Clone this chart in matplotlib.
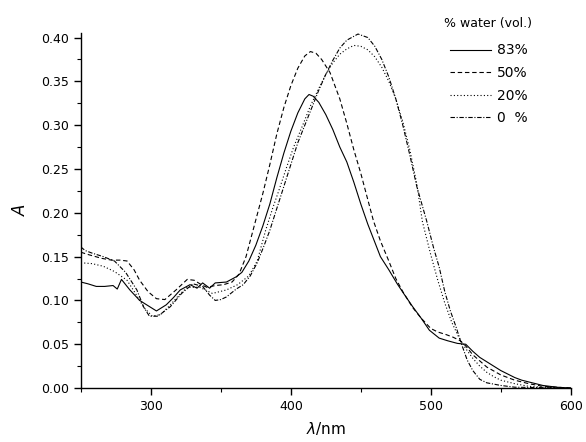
import matplotlib
matplotlib.use('Agg')
import matplotlib.pyplot as plt
from matplotlib.ticker import MultipleLocator

# 83 % water (solid)
wl_83 = [250, 255, 261, 267, 273, 276, 279, 285, 292, 298, 304, 311, 316, 321, 328, 333, 337, 342, 346,
         354, 361, 365, 370, 375, 380, 385, 390, 395, 400, 405, 410, 413, 416, 420, 425, 430, 435,
         440, 445, 450, 455, 464, 470, 476, 481, 487, 493, 499, 506, 512, 519, 525, 530, 535, 540,
         545, 550, 555, 560, 565, 570, 575, 580, 590, 600]
a_83 = [0.121, 0.119, 0.116, 0.116, 0.117, 0.113, 0.124, 0.112, 0.100, 0.094, 0.088, 0.095, 0.103, 0.112,
        0.118, 0.114, 0.120, 0.114, 0.120, 0.121, 0.127, 0.132, 0.145, 0.163, 0.185, 0.210, 0.240,
        0.268, 0.293, 0.314, 0.330, 0.335, 0.333, 0.326, 0.312, 0.295, 0.275, 0.258, 0.235, 0.210,
        0.187, 0.150, 0.135, 0.119, 0.107, 0.093, 0.080, 0.066, 0.057, 0.054, 0.051, 0.050, 0.042,
        0.035, 0.030, 0.025, 0.020, 0.016, 0.012, 0.009, 0.007, 0.005, 0.003, 0.001, 0.000]

# 50 % water (dashed)
wl_50 = [250, 256, 265, 272, 278, 283, 288, 292, 298, 304, 310, 318, 326, 331, 336, 340, 346, 352,
         358, 363, 368, 373, 380, 385, 390, 395, 400, 405, 410, 414, 418, 422, 428, 435, 440, 445,
         450, 455, 459, 464, 470, 475, 480, 487, 493, 500, 505, 511, 516, 521, 525, 530, 535, 540,
         550, 560, 570, 580, 590, 600]
a_50 = [0.155, 0.152, 0.148, 0.146, 0.146, 0.145, 0.135, 0.123, 0.110, 0.102, 0.101, 0.112, 0.124,
        0.123, 0.118, 0.115, 0.117, 0.118, 0.121, 0.130, 0.150, 0.180, 0.222, 0.255, 0.290, 0.320,
        0.345, 0.365, 0.379, 0.384, 0.382, 0.375, 0.360, 0.330, 0.302, 0.272, 0.245, 0.215, 0.191,
        0.168, 0.145, 0.125, 0.110, 0.092, 0.080, 0.068, 0.064, 0.061, 0.058, 0.054, 0.048, 0.038,
        0.031, 0.024, 0.015, 0.009, 0.005, 0.002, 0.001, 0.000]

# 20 % water (dotted)
wl_20 = [250, 258, 266, 274, 283, 289, 295, 301, 307, 314, 320, 326, 335, 344, 354, 362, 370, 376,
         382, 387, 392, 397, 402, 408, 414, 420, 425, 430, 435, 440, 445, 450, 455, 460, 465, 470,
         475, 480, 485, 490, 494, 500, 505, 510, 515, 520, 525, 530, 535, 540, 545, 550, 560, 570,
         580, 600]
a_20 = [0.143, 0.142, 0.139, 0.133, 0.123, 0.108, 0.092, 0.082, 0.084, 0.095, 0.106, 0.115, 0.115,
        0.108, 0.112, 0.118, 0.128, 0.145, 0.180, 0.205, 0.228, 0.252, 0.275, 0.298, 0.322, 0.342,
        0.358, 0.371, 0.381, 0.387, 0.391, 0.390, 0.386, 0.378, 0.366, 0.350, 0.330, 0.304, 0.272,
        0.233, 0.190, 0.152, 0.123, 0.097, 0.075, 0.058, 0.045, 0.034, 0.025, 0.018, 0.013, 0.009,
        0.005, 0.002, 0.001, 0.000]

# 0 % water (dash-dot)
wl_0 = [250, 253, 258, 266, 274, 282, 290, 295, 299, 305, 314, 322, 330, 337, 342, 346, 350, 354,
        361, 366, 371, 376, 381, 385, 390, 395, 400, 405, 410, 415, 420, 425, 430, 435, 440, 448,
        455, 460, 465, 470, 475, 480, 485, 490, 497, 502, 506, 510, 514, 518, 522, 526, 530, 535,
        540, 550, 560, 600]
a_0 = [0.161, 0.157, 0.154, 0.150, 0.145, 0.132, 0.112, 0.092, 0.082, 0.082, 0.093, 0.108, 0.119,
       0.116, 0.106, 0.100, 0.101, 0.104, 0.113, 0.118, 0.128, 0.143, 0.163, 0.180, 0.205, 0.230,
       0.255, 0.280, 0.300, 0.320, 0.340, 0.358, 0.374, 0.388, 0.397, 0.404, 0.400, 0.390, 0.375,
       0.355, 0.330, 0.300, 0.266, 0.230, 0.191, 0.160, 0.138, 0.110, 0.088, 0.070, 0.050, 0.032,
       0.020, 0.010, 0.006, 0.003, 0.001, 0.000]

labels = ['83%', '50%', '20%', '0  %']

fig = plt.figure(figsize=(5.86, 4.42), dpi=100)
ax = fig.add_axes([0.138, 0.122, 0.836, 0.803])

lw = 0.8
ax.plot(wl_83, a_83, color='black', lw=lw, linestyle='-', label=labels[0])
ax.plot(wl_50, a_50, color='black', lw=lw, linestyle=(0, (4, 2.5)), label=labels[1])
ax.plot(wl_20, a_20, color='black', lw=lw, linestyle=(0, (1, 2)), label=labels[2])
ax.plot(wl_0, a_0, color='black', lw=lw, linestyle=(0, (4, 1.5, 1, 1.5)), label=labels[3])

ax.set_xlim(250, 600)
ax.set_ylim(0, 0.405)
ax.xaxis.set_major_locator(MultipleLocator(100))
ax.xaxis.set_minor_locator(MultipleLocator(50))
ax.yaxis.set_major_locator(MultipleLocator(0.05))
ax.yaxis.set_minor_locator(MultipleLocator(0.025))
ax.yaxis.set_major_formatter(matplotlib.ticker.FormatStrFormatter('%.2f'))
ax.set_xticks([300, 400, 500, 600])

for s in ['top', 'right']:
    ax.spines[s].set_visible(False)
for s in ['left', 'bottom']:
    ax.spines[s].set_linewidth(1.0)
ax.tick_params(which='major', direction='out', length=5, width=1.0, labelsize=9)
ax.tick_params(which='minor', direction='out', length=3, width=0.8)

ax.set_xlabel(r'$\lambda$/nm', fontsize=11, labelpad=5)
ax.set_ylabel('A', fontsize=12, style='italic', labelpad=8)

leg = fig.legend(loc='upper left', bbox_to_anchor=(432 / 586, 1 - 4 / 442), frameon=False,
                 title='% water (vol.)', fontsize=10, title_fontsize=9,
                 handlelength=3.0, handletextpad=0.4, labelspacing=0.62)
leg._legend_box.sep = 10

fig.savefig('out.png', dpi=100)
